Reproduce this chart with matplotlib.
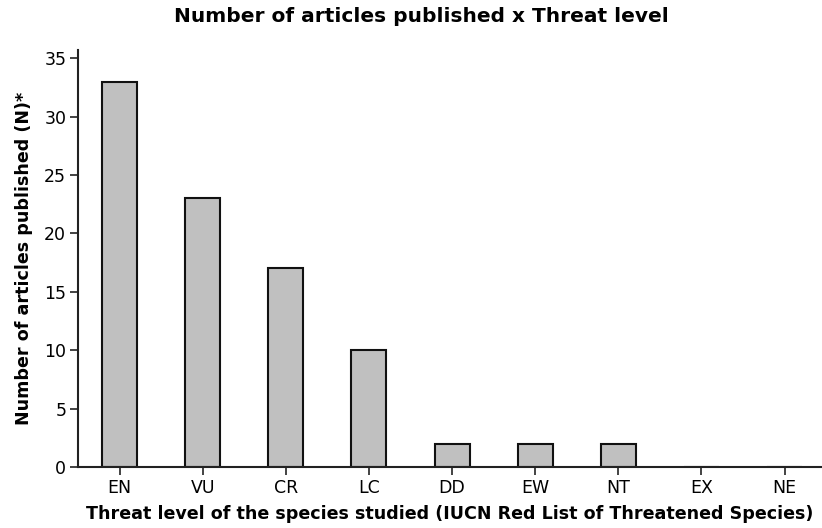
import matplotlib
matplotlib.use("Agg")
import matplotlib.pyplot as plt

categories = ["EN", "VU", "CR", "LC", "DD", "EW", "NT", "EX", "NE"]
values = [33, 23, 17, 10, 2, 2, 2, 0, 0]
yticks = [0, 5, 10, 15, 20, 25, 30, 35]

plt.rcParams['font.family'] = ['DejaVu Sans']
fig = plt.figure(figsize=(8.22, 5.28), dpi=100)
ax = fig.add_axes([78/822, 1 - 467/528, 1 - 78/822, (467 - 50)/528])

x = list(range(len(categories)))
ax.bar(x, values, width=0.42, color="#c0c0c0", edgecolor="#111111", linewidth=1.5)
ax.set_xlim(-0.5, 8.45)
ax.set_ylim(0, 35.7)
ax.set_xticks(x)
ax.set_xticklabels(categories)
ax.set_yticks(yticks)
ax.tick_params(axis='both', labelsize=12.5, length=5.5, width=1.2, color="#222222", pad=3)
for s in ["top", "right"]:
    ax.spines[s].set_visible(False)
for s in ["left", "bottom"]:
    ax.spines[s].set_linewidth(1.5)
    ax.spines[s].set_color("#222222")

ax.set_xlabel("Threat level of the species studied (IUCN Red List of Threatened Species)",
              fontsize=12.6, fontweight="bold", labelpad=6)
ax.set_ylabel("Number of articles published (N)*", fontsize=12.6, fontweight="bold", labelpad=8)
fig.text(421.5/822, 1 - 16/528, "Number of articles published x Threat level",
         fontsize=14.5, fontweight="bold", ha="center", va="center")

fig.savefig("out.png", dpi=100)
